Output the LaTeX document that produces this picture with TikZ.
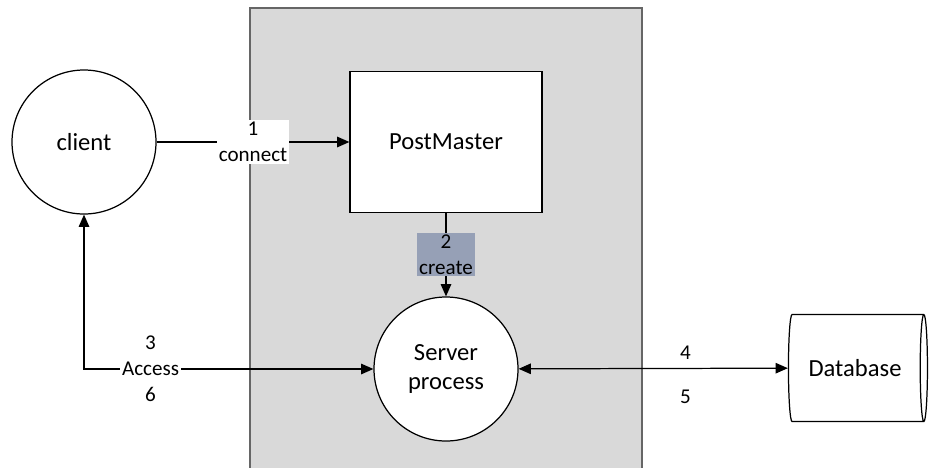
\documentclass[tikz,border=0pt]{standalone}
\usepackage{fontspec}
\setmainfont{Carlito}
\usetikzlibrary{positioning,shapes.geometric,arrows.meta}
\definecolor{lblblue}{RGB}{150,160,182}

\begin{document}
\begin{tikzpicture}[x=0.02cm,y=-0.02cm,line width=0.7pt,
	>={Triangle[length=7pt,width=6pt]}]

% one pixel of the picture
\def\px{0.02cm}
% node style definition
\tikzstyle{proc} = [
	draw, fill=white, circle, inner sep=0pt, align=center,
	minimum size=144*\px, font=\fontsize{14}{16.5}\selectfont ];
\tikzstyle{block} = [
	draw, fill=white, rectangle,
	minimum width=192*\px, minimum height=141*\px,
	font=\fontsize{14}{16.5}\selectfont ];
\tikzstyle{store} = [
	draw, fill=white, cylinder, aspect=0.25,
	minimum width=107*\px, minimum height=139*\px,
	font=\fontsize{14}{16.5}\selectfont ];
\tikzstyle{lbl} = [inner sep=1pt, align=center,
	font=\fontsize{12}{14.7}\selectfont];

\useasboundingbox (0,0) rectangle (935,467);

% backend area
\draw[draw=black!60, fill=black!15] (250,8) rectangle (642,480);

\node[proc] (client) at (84,142) {client};
\node[block] (pm) at (446,142) {PostMaster};
\node[proc] (server) at (446,369) {Server\\process};
\node[store] (db) at (855,368) {Database};

\coordinate (turn) at (84,369);

\draw[->] (client) -- node[lbl,fill=white] {1\\connect} (pm);
\draw[->] (pm) -- node[lbl,fill=lblblue] {2\\create} (server);
\draw[<->] (client) -- (turn) -- node[lbl,fill=white,pos=.23] {3\\Access\\6} (server);
\draw[<->] (server) -- node[lbl,pos=.62,above=3.5pt] {4}
	node[lbl,pos=.62,below=11pt] {5} (db);

\end{tikzpicture}
\end{document}
